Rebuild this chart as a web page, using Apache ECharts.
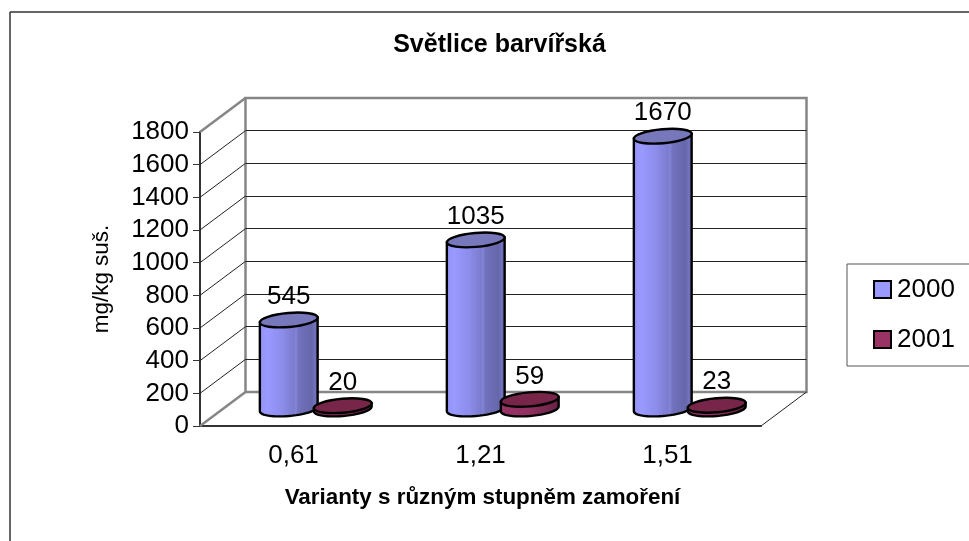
<!DOCTYPE html>
<html>
<head>
<meta charset="utf-8">
<style>
  html, body { margin: 0; padding: 0; background: #fff; overflow: hidden; }
  #main { width: 969px; height: 541px; }
</style>
<script src="https://cdn.jsdelivr.net/npm/echarts@6/dist/echarts.min.js"></script>
</head>
<body>
<div id="main"></div>
<script>
// hodnoty z grafu
const categories = ['0,61', '1,21', '1,51']
const values2000 = [545, 1035, 1670]
const values2001 = [20, 59, 23]
const wallTicks = [0, 200, 400, 600, 800, 1000, 1200, 1400, 1600, 1800]

const FONT = '"Liberation Sans", Arial, sans-serif'
// posun zadni steny oproti prednim osam
const DEPTH_X = 45.5
const DEPTH_Y = -34
const WALL = '#868686'
const RX = 29
const RY = 7
const TILT = 5 * Math.PI / 180

// bod na naklonene elipse
function ellipsePoint(cx, cy, t) {
    return [
        cx + RX * Math.cos(t) * Math.cos(TILT) + RY * Math.sin(t) * Math.sin(TILT),
        cy - RX * Math.cos(t) * Math.sin(TILT) + RY * Math.sin(t) * Math.cos(TILT)
    ]
}

// jeden valec: telo s gradientem, horni elipsa, popisek
function cylinder(api, shift, values, side, topColor) {
    const i = api.value(0)
    const base = api.coord([i, 0])
    const top = api.coord([i, values[i]])
    const cx = base[0] + DEPTH_X / 2 + shift
    const by = base[1] + DEPTH_Y / 2
    const ty = top[1] + DEPTH_Y / 2

    const t0 = Math.atan2(RY * Math.sin(TILT), RX * Math.cos(TILT))
    const points = []
    for (let k = 0; k <= 24; k++) {
        points.push(ellipsePoint(cx, by, t0 + Math.PI * k / 24))
    }
    points.unshift(ellipsePoint(cx, ty, t0))
    points.push(ellipsePoint(cx, ty, t0 + Math.PI))

    return {
        type: 'group',
        children: [
            {
                type: 'polygon',
                shape: { points: points },
                style: {
                    fill: new echarts.graphic.LinearGradient(0, 0, 1, 0, side),
                    stroke: '#000',
                    lineWidth: 2.4
                }
            },
            {
                type: 'ellipse',
                x: cx,
                y: ty,
                rotation: TILT,
                shape: { cx: 0, cy: 0, rx: RX, ry: RY },
                style: { fill: topColor, stroke: '#000', lineWidth: 2.4 }
            },
            {
                type: 'text',
                x: cx,
                y: ty - 23,
                style: {
                    text: String(values[i]),
                    fill: '#000',
                    font: '26px ' + FONT,
                    align: 'center',
                    verticalAlign: 'middle'
                }
            }
        ]
    }
}

const blueSide = [
    { offset: 0, color: '#9494F6' },
    { offset: 0.15, color: '#9999FF' },
    { offset: 0.4, color: '#8C8CEA' },
    { offset: 0.58, color: '#7C7CCF' },
    { offset: 0.62, color: '#8484D6' },
    { offset: 0.66, color: '#7272BE' },
    { offset: 0.88, color: '#6666AA' },
    { offset: 0.93, color: '#7272BE' },
    { offset: 1, color: '#6262A4' }
]
const redSide = [
    { offset: 0, color: '#993366' },
    { offset: 0.5, color: '#8F305F' },
    { offset: 1, color: '#662244' }
]

const chart = echarts.init(document.getElementById('main'), null, { renderer: 'canvas' })

chart.setOption({
    animation: false,
    backgroundColor: '#fff',
    title: {
        text: 'Světlice barvířská',
        left: 494.5,
        top: 28,
        textAlign: 'center',
        textStyle: { fontFamily: FONT, fontSize: 25, fontWeight: 'bold', color: '#000' }
    },
    legend: {
        data: ['2000', '2001'],
        orient: 'vertical',
        left: 847,
        top: 264,
        padding: [10, 60, 11, 26],
        itemWidth: 17,
        itemHeight: 17,
        itemGap: 19,
        borderColor: '#555',
        borderWidth: 1,
        icon: 'rect',
        itemStyle: { borderColor: '#000', borderWidth: 2 },
        textStyle: { fontFamily: FONT, fontSize: 26, lineHeight: 26, color: '#000', padding: [5, 0, 0, 1] }
    },
    grid: [
        // predni osy
        { left: 200, top: 132, width: 561, height: 294 },
        // zadni stena
        { left: 245.5, top: 98, width: 561, height: 294, show: true, borderColor: WALL, borderWidth: 2.5, z: 0 }
    ],
    xAxis: [
        {
            type: 'category',
            gridIndex: 0,
            data: categories,
            name: 'Varianty s různým stupněm zamoření',
            nameLocation: 'middle',
            nameGap: 61,
            nameTextStyle: { fontFamily: FONT, fontSize: 22.4, fontWeight: 'bold', color: '#000', padding: [0, 0, 0, 4] },
            axisLine: { lineStyle: { color: '#333', width: 2 } },
            axisTick: { length: 7, lineStyle: { color: '#333', width: 1 } },
            axisLabel: { fontFamily: FONT, fontSize: 26, color: '#000', margin: 17 }
        },
        {
            type: 'category',
            gridIndex: 1,
            data: categories,
            axisLine: { show: false },
            axisTick: { show: false },
            axisLabel: { show: false }
        }
    ],
    yAxis: [
        {
            type: 'value',
            gridIndex: 0,
            min: 0,
            max: 1800,
            interval: 200,
            name: 'mg/kg suš.',
            nameLocation: 'middle',
            nameGap: 87,
            nameTextStyle: { fontFamily: FONT, fontSize: 22.4, color: '#000' },
            axisLine: { show: true, lineStyle: { color: '#333', width: 2 } },
            axisTick: { show: true, length: 7, lineStyle: { color: '#333', width: 1 } },
            axisLabel: { fontFamily: FONT, fontSize: 26, color: '#000', margin: 11, padding: [4, 0, 0, 0], verticalAlignMaxLabel: 'middle', verticalAlignMinLabel: 'middle', formatter: v => String(v) },
            splitLine: { show: false }
        },
        {
            type: 'value',
            gridIndex: 1,
            min: 0,
            max: 1800,
            interval: 200,
            axisLine: { show: false },
            axisTick: { show: false },
            axisLabel: { show: false },
            splitLine: { show: true, showMinLine: false, showMaxLine: false, lineStyle: { color: '#222', width: 1 } }
        }
    ],
    series: [
        {
            // bocni stena a podlaha
            type: 'custom',
            xAxisIndex: 0,
            yAxisIndex: 0,
            silent: true,
            z: 1,
            data: wallTicks.map(v => [v]),
            encode: { y: 0 },
            renderItem: function (params, api) {
                const v = api.value(0)
                const x = params.coordSys.x
                const y = api.coord([0, v])[1]
                const edge = v === 0 || v === 1800
                const children = [{
                    type: 'line',
                    shape: { x1: x, y1: y, x2: x + DEPTH_X, y2: y + DEPTH_Y },
                    style: { stroke: edge ? WALL : '#222', lineWidth: edge ? 2.5 : 1 }
                }]
                if (v === 0) {
                    const x2 = x + params.coordSys.width
                    children.push({
                        type: 'line',
                        shape: { x1: x2, y1: y, x2: x2 + DEPTH_X, y2: y + DEPTH_Y },
                        style: { stroke: '#222', lineWidth: 1 }
                    })
                }
                return { type: 'group', children: children }
            }
        },
        {
            name: '2000',
            type: 'custom',
            xAxisIndex: 0,
            yAxisIndex: 0,
            z: 3,
            itemStyle: { color: '#9999FF' },
            data: categories.map((c, i) => [i, values2000[i]]),
            renderItem: function (params, api) {
                return cylinder(api, -27.5, values2000, blueSide, '#7777BB')
            }
        },
        {
            name: '2001',
            type: 'custom',
            xAxisIndex: 0,
            yAxisIndex: 0,
            z: 4,
            itemStyle: { color: '#993366' },
            data: categories.map((c, i) => [i, values2001[i]]),
            renderItem: function (params, api) {
                return cylinder(api, 26.5, values2001, redSide, '#772549')
            }
        }
    ],
    graphic: [
        // ramecek grafu, pravy a dolni okraj je mimo vyrez
        { type: 'line', shape: { x1: 10, y1: 12, x2: 969, y2: 12 }, style: { stroke: '#333', lineWidth: 1.5 } },
        { type: 'line', shape: { x1: 10, y1: 12, x2: 10, y2: 541 }, style: { stroke: '#333', lineWidth: 1.5 } }
    ]
})
</script>
</body>
</html>
